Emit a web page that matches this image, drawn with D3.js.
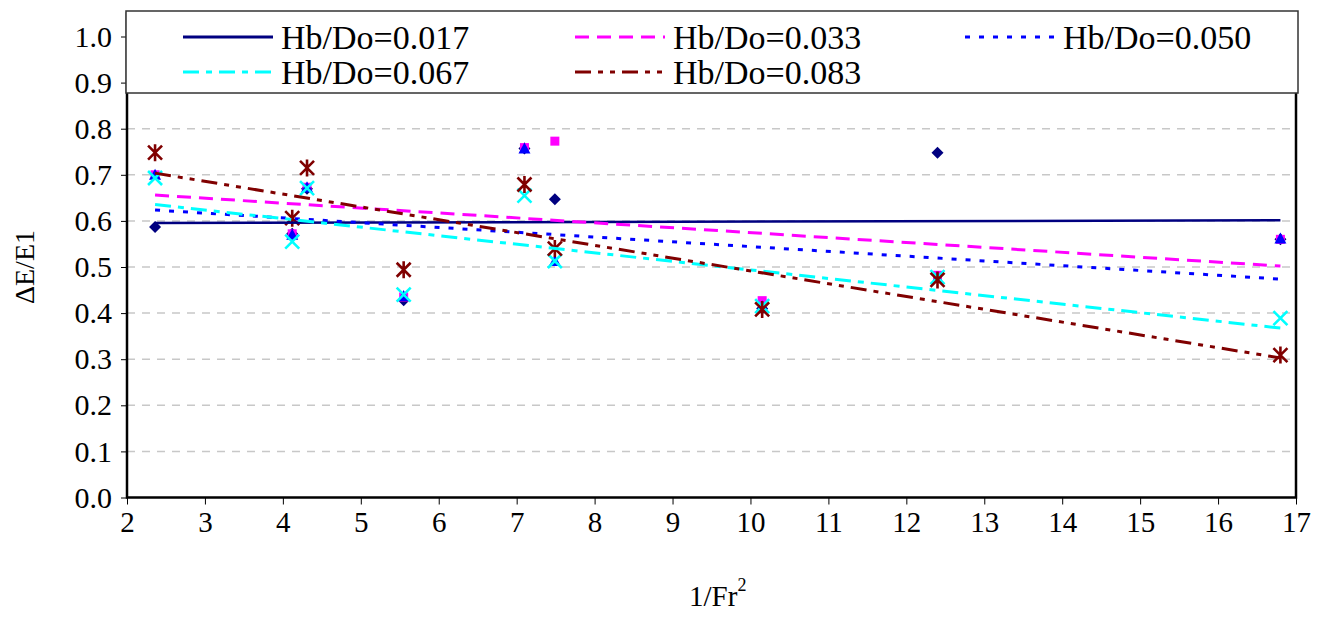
<!DOCTYPE html>
<html><head><meta charset="utf-8">
<script src="https://cdn.jsdelivr.net/npm/d3@7"></script>
<style>body{margin:0;background:#fff} svg{display:block} svg text{font-family:"Liberation Serif","DejaVu Serif",serif !important;}</style>
</head><body><svg id="c" width="1329" height="619"></svg>
<script>
// ---- data ----
const xValues = [2.36, 4.12, 4.31, 5.55, 7.10, 7.49, 10.15, 12.40, 16.80];
const seriesNames = ["Hb/Do=0.017", "Hb/Do=0.033", "Hb/Do=0.050", "Hb/Do=0.067", "Hb/Do=0.083"];
const hb017 = [0.587, 0.572, 0.670, 0.428, 0.757, 0.647, 0.410, 0.748, 0.560];
const hb033 = [0.700, 0.572, 0.673, 0.435, 0.759, 0.773, 0.427, 0.482, 0.560];
const hb050 = [0.700, 0.570, 0.673, 0.437, 0.757, 0.513, 0.415, 0.476, 0.562];
const hb067 = [0.693, 0.555, 0.671, 0.440, 0.655, 0.513, 0.415, 0.478, 0.389];
const hb083 = [0.748, 0.606, 0.715, 0.494, 0.679, 0.540, 0.408, 0.472, 0.309];
const xTicks = [2, 3, 4, 5, 6, 7, 8, 9, 10, 11, 12, 13, 14, 15, 16, 17];
const yTicks = [0.0, 0.1, 0.2, 0.3, 0.4, 0.5, 0.6, 0.7, 0.8, 0.9, 1.0];
const yTitle = "ΔE/E1";
const xTitle = "1/Fr";

// ---- styles ----
const seriesValues = [hb017, hb033, hb050, hb067, hb083];
const colors = ["#000080", "#FF00FF", "#0000FF", "#00FFFF", "#800000"];
const markers = ["diamond", "square", "triangle", "x", "star"];
const dashes = [null, "14,8", "5,9", "16,7,6,7", "16,7,5,7,5,7"];
const FONT = "Liberation Serif";

const svg = d3.select("#c");
const x = d3.scaleLinear().domain([2, 17]).range([127, 1296]);
const y = d3.scaleLinear().domain([0, 1]).range([497.5, 36.5]);
const plotTop = y(1.05);

// gridlines
svg.append("g").selectAll("line").data(yTicks.filter(d => d > 0))
  .join("line")
  .attr("x1", x(2)).attr("x2", x(17))
  .attr("y1", d => y(d)).attr("y2", d => y(d))
  .attr("stroke", "#c8c8c8").attr("stroke-width", 1.5)
  .attr("stroke-dasharray", "8,7");

// markers
function drawMarker(g, type, color) {
  if (type === "diamond") {
    g.append("path").attr("d", "M0,-6L6,0L0,6L-6,0Z").attr("fill", color);
  } else if (type === "square") {
    g.append("rect").attr("x", -4.5).attr("y", -4.5).attr("width", 9).attr("height", 9).attr("fill", color);
  } else if (type === "triangle") {
    g.append("path").attr("d", "M0,-6L6,5L-6,5Z").attr("fill", color);
  } else if (type === "x") {
    g.append("path").attr("d", "M-7,-7L7,7M-7,7L7,-7").attr("stroke", color).attr("stroke-width", 2.6).attr("fill", "none");
  } else if (type === "star") {
    g.append("path").attr("d", "M-7,-7L7,7M-7,7L7,-7M0,-8.5L0,8.5").attr("stroke", color).attr("stroke-width", 2.6).attr("fill", "none");
  }
}

seriesValues.forEach((vals, i) => {
  const g = svg.append("g");
  vals.forEach((v, j) => {
    const m = g.append("g").attr("transform", `translate(${x(xValues[j])},${y(v)})`);
    drawMarker(m, markers[i], colors[i]);
  });
});

// linear trendlines (least squares, as in the original chart)
seriesValues.forEach((vals, i) => {
  const mx = d3.mean(xValues), my = d3.mean(vals);
  let sxy = 0, sxx = 0;
  xValues.forEach((xv, j) => { sxy += (xv - mx) * (vals[j] - my); sxx += (xv - mx) ** 2; });
  const b = sxy / sxx, a = my - b * mx;
  const x0 = d3.min(xValues), x1 = d3.max(xValues);
  svg.append("line")
    .attr("x1", x(x0)).attr("y1", y(a + b * x0))
    .attr("x2", x(x1)).attr("y2", y(a + b * x1))
    .attr("stroke", colors[i]).attr("stroke-width", i === 0 ? 2.5 : 3)
    .attr("stroke-dasharray", dashes[i]);
});

// plot frame
svg.append("rect").attr("x", x(2)).attr("y", plotTop)
  .attr("width", x(17) - x(2)).attr("height", y(0) - plotTop)
  .attr("fill", "none").attr("stroke", "#000").attr("stroke-width", 2.5);

// axes
const yAxis = svg.append("g").attr("transform", `translate(${x(2)},0)`)
  .call(d3.axisLeft(y).tickValues(yTicks).tickFormat(d3.format(".1f")).tickSize(6).tickPadding(9));
const xAxis = svg.append("g").attr("transform", `translate(0,${y(0)})`)
  .call(d3.axisBottom(x).tickValues(xTicks).tickFormat(d3.format("d")).tickSize(7).tickPadding(7));
[yAxis, xAxis].forEach(a => {
  a.attr("font-family", FONT);
  a.select(".domain").remove();
  a.selectAll(".tick line").attr("stroke", "#000").attr("stroke-width", 1);
  a.selectAll("text").attr("font-size", 29).attr("fill", "#000");
});
yAxis.selectAll("text").attr("font-size", 30);

// axis titles
svg.append("text").attr("transform", `translate(34,${y(0.5)}) rotate(-90)`)
  .attr("text-anchor", "middle").attr("font-family", FONT).attr("font-size", 28)
  .text(yTitle);
const xt = svg.append("text").attr("x", x(9.58)).attr("y", 606)
  .attr("text-anchor", "middle").attr("font-family", FONT).attr("font-size", 29);
xt.append("tspan").text(xTitle);
xt.append("tspan").attr("dy", -15).attr("font-size", 18).text("2");

// legend
const legend = svg.append("g");
legend.append("rect").attr("x", 126).attr("y", 11).attr("width", 1172).attr("height", 82)
  .attr("fill", "#fff").attr("stroke", "#333").attr("stroke-width", 1.5);
const colX = [183, 575, 965];
const rowY = [37, 72];
seriesNames.forEach((name, i) => {
  const cx = colX[i % 3], cy = rowY[Math.floor(i / 3)];
  legend.append("line").attr("x1", cx).attr("x2", cx + 90).attr("y1", cy).attr("y2", cy)
    .attr("stroke", colors[i]).attr("stroke-width", 3).attr("stroke-dasharray", dashes[i]);
  legend.append("text").attr("x", cx + 98).attr("y", cy).attr("dy", "0.35em")
    .attr("font-family", FONT).attr("font-size", 34).text(name);
});
</script>
</body></html>
